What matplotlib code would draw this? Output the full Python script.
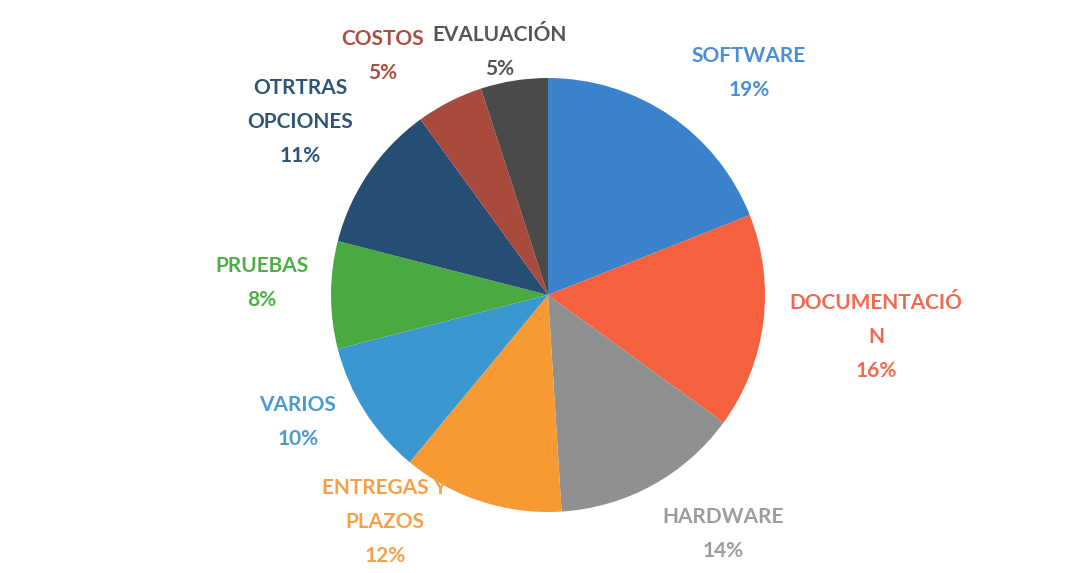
import numpy as np
import matplotlib
matplotlib.use("Agg")
from matplotlib import pyplot as plt

# data, clockwise from 12 o'clock
labels = ["SOFTWARE", "DOCUMENTACIÓ\nN", "HARDWARE", "ENTREGAS Y\nPLAZOS", "VARIOS",
          "PRUEBAS", "OTRTRAS\nOPCIONES", "COSTOS", "EVALUACIÓN"]
values = [19, 16, 14, 12, 10, 8, 11, 5, 5]
wedge_colors = ["#3a83cc", "#f5603f", "#8f9191", "#f89a33", "#3b97cf",
                "#4aaa42", "#264d72", "#a84a3c", "#4a4a4a"]
text_colors = ["#4a8fd6", "#f26a4e", "#9b9c9c", "#f7a046", "#4a9ad0",
               "#4fae45", "#2e5578", "#ad4c40", "#555555"]
# label block centres in pixels of the original image
label_px = [(749, 73), (876, 337), (723, 534), (385, 522), (298, 422),
            (262, 283), (300, 122), (383, 56), (500, 52)]

W, H = 1079, 573
cx, cy, r = 548, 295, 217

fig = plt.figure(figsize=(W / 100, H / 100), dpi=100)
fig.patch.set_facecolor("white")
ax = fig.add_axes([(cx - r) / W, (H - cy - r) / H, 2 * r / W, 2 * r / H])
ax.pie(values, colors=wedge_colors, startangle=90, counterclock=False, radius=1)
ax.set_xlim(-1, 1)
ax.set_ylim(-1, 1)
ax.set_aspect("equal")
ax.axis("off")

for lab, v, col, (px, py) in zip(labels, values, text_colors, label_px):
    ax.text((px - cx) / r, (cy - py) / r, "{}\n{}%".format(lab, v), color=col,
            ha="center", va="center", fontsize=15, fontweight="bold",
            family=["Lato", "DejaVu Sans"], linespacing=1.85, clip_on=False)

fig.savefig("out.png", dpi=100, facecolor="white")
